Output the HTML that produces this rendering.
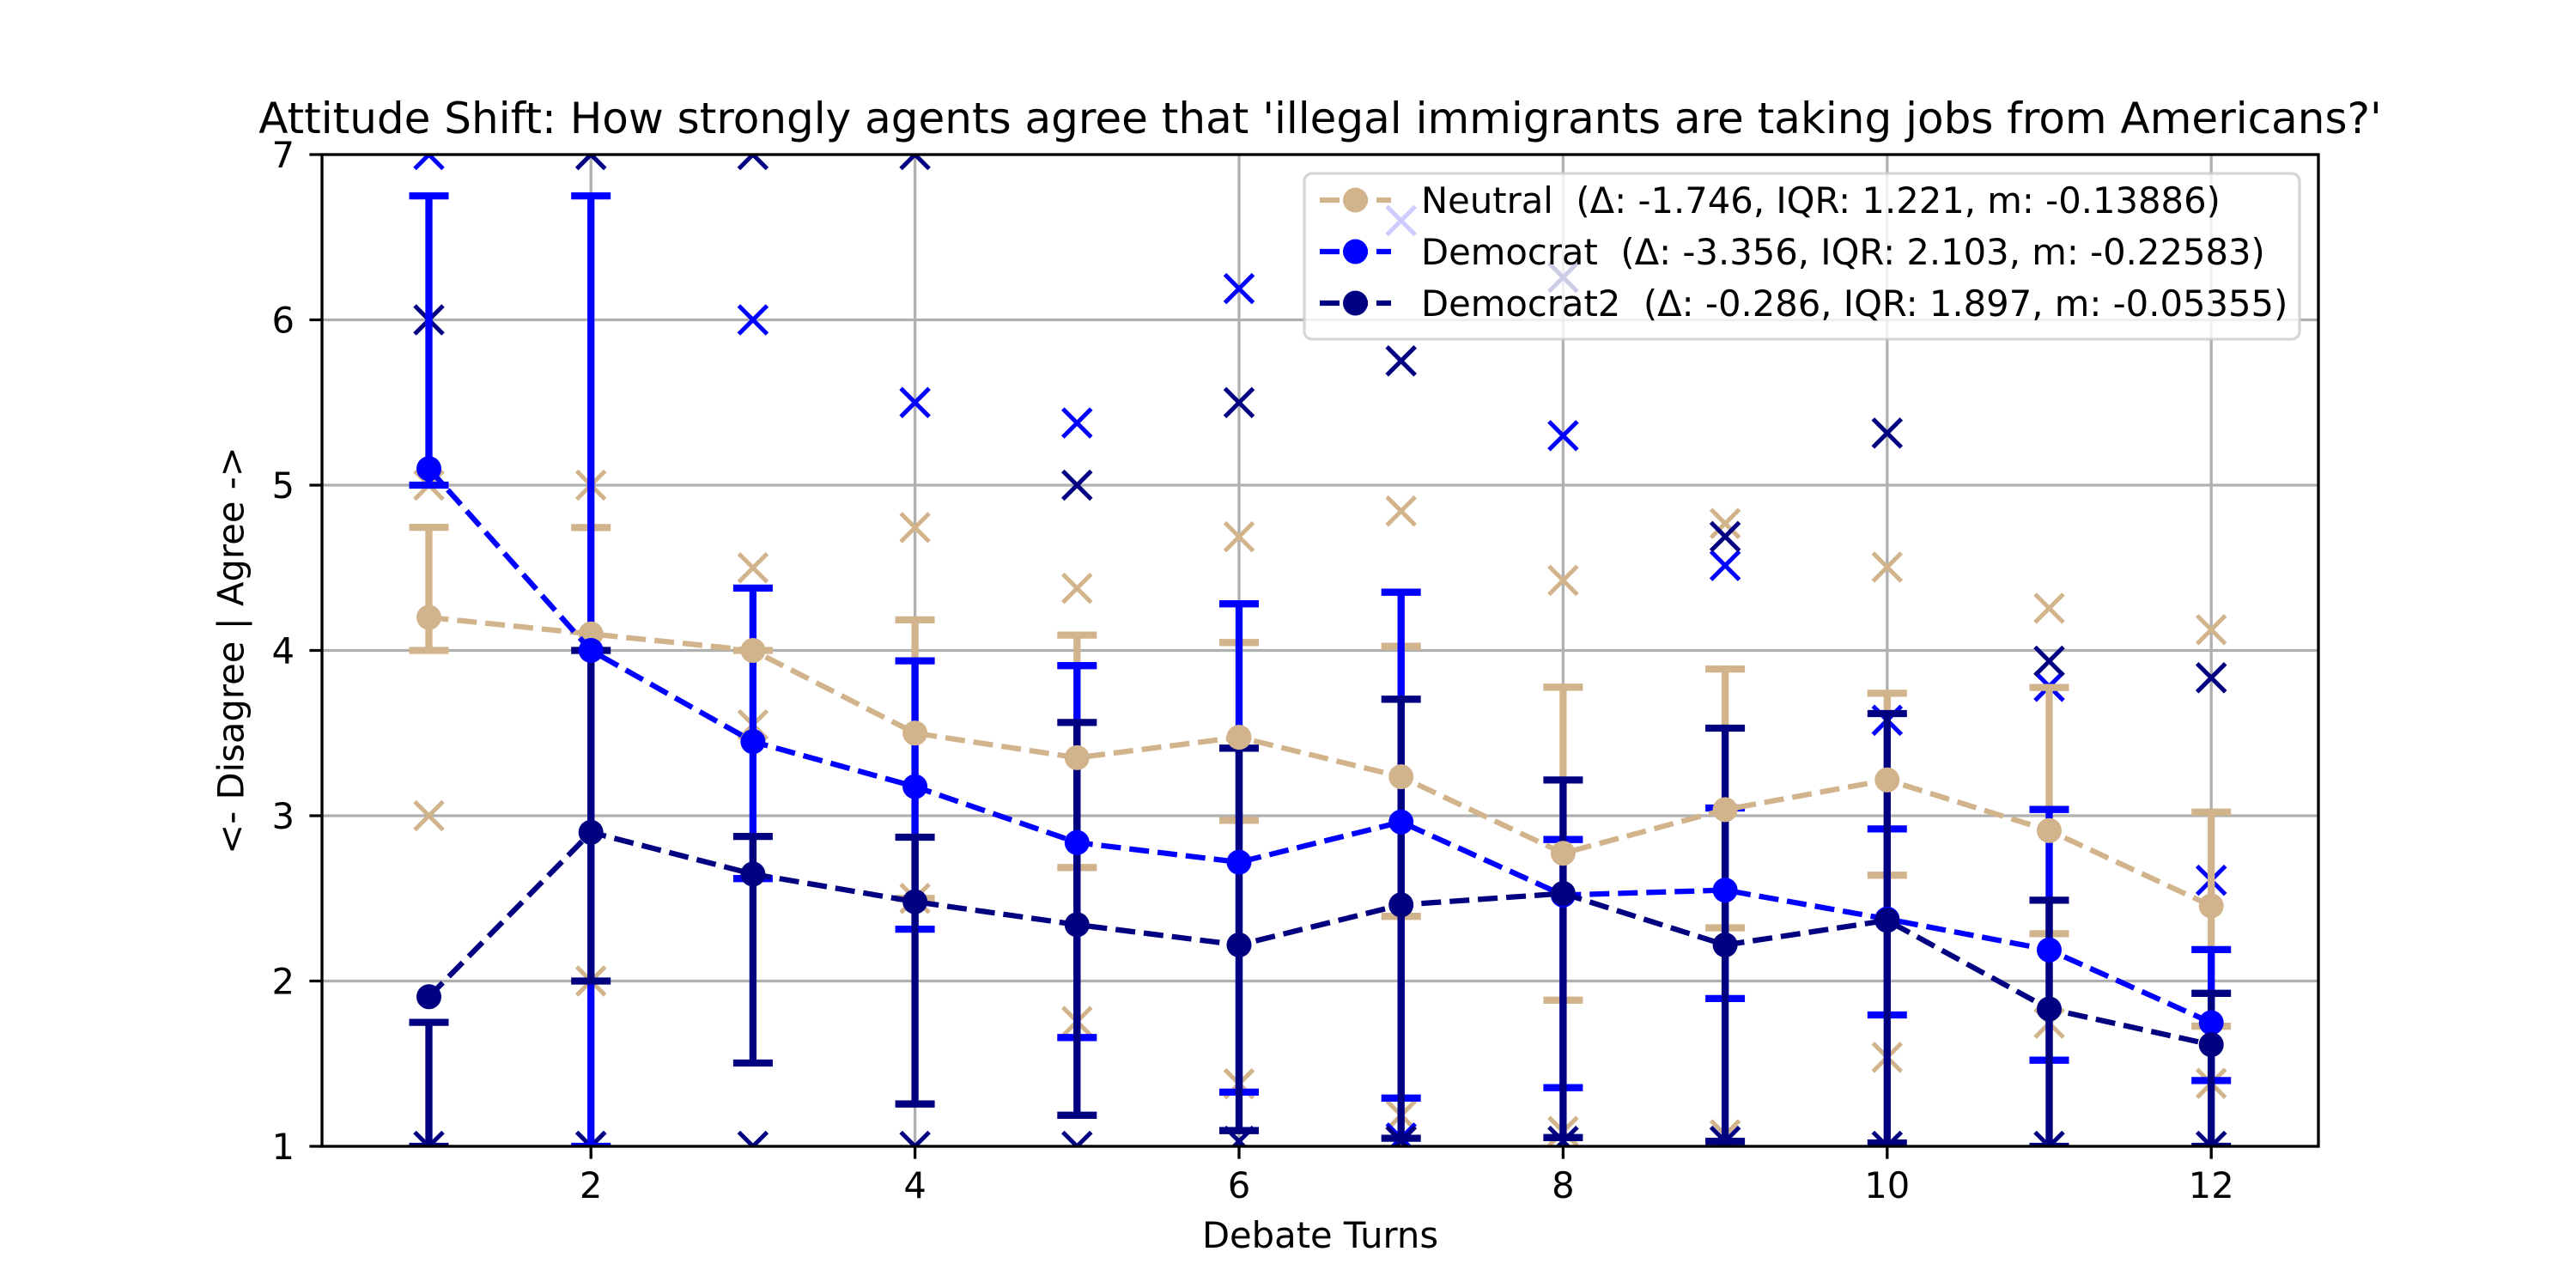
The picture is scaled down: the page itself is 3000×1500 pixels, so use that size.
<!DOCTYPE html>
<html><head><meta charset="utf-8"><style>
html,body{margin:0;padding:0;background:#fff;}
svg{display:block;}
text{font-family:"DejaVu Sans","Liberation Sans",sans-serif;fill:#000;}
</style></head><body>
<svg width="3000" height="1500" viewBox="0 0 3000 1500" xmlns="http://www.w3.org/2000/svg">
<defs>
<clipPath id="ax"><rect x="375" y="180" width="2325" height="1155"/></clipPath>
<path id="xm" d="M-16.5,-16.5L16.5,16.5M-16.5,16.5L16.5,-16.5"/>
</defs>
<rect x="0" y="0" width="3000" height="1500" fill="#fff"/>
<!-- grid -->
<g stroke="#b0b0b0" stroke-width="3.33" fill="none">
<path d="M688.2,180V1335M1065.6,180V1335M1443,180V1335M1820.4,180V1335M2197.8,180V1335M2575.2,180V1335"/>
<path d="M375,1142.5H2700M375,950H2700M375,757.5H2700M375,565H2700M375,372.5H2700"/>
</g>
<g clip-path="url(#ax)">
<!-- x markers -->
<g stroke="#D2B48C" stroke-width="5" fill="none">
<use href="#xm" x="499.5" y="565"/><use href="#xm" x="499.5" y="950"/>
<use href="#xm" x="688.2" y="565"/><use href="#xm" x="688.2" y="1142.5"/>
<use href="#xm" x="876.9" y="661.3"/><use href="#xm" x="876.9" y="844.1"/>
<use href="#xm" x="1065.6" y="614.4"/><use href="#xm" x="1065.6" y="1046.3"/>
<use href="#xm" x="1254.3" y="685.1"/><use href="#xm" x="1254.3" y="1189.7"/>
<use href="#xm" x="1443" y="625.1"/><use href="#xm" x="1443" y="1262.2"/>
<use href="#xm" x="1631.7" y="595.2"/><use href="#xm" x="1631.7" y="1298.8"/>
<use href="#xm" x="1820.4" y="675.9"/><use href="#xm" x="1820.4" y="1317.7"/>
<use href="#xm" x="2009.1" y="609.7"/><use href="#xm" x="2009.1" y="1321.5"/>
<use href="#xm" x="2197.8" y="660.5"/><use href="#xm" x="2197.8" y="1231.4"/>
<use href="#xm" x="2386.5" y="708.4"/><use href="#xm" x="2386.5" y="1191.6"/>
<use href="#xm" x="2575.2" y="733.4"/><use href="#xm" x="2575.2" y="1261.7"/>
</g>
<g stroke="#0000FF" stroke-width="5" fill="none">
<use href="#xm" x="499.5" y="180"/>
<use href="#xm" x="688.2" y="180"/><use href="#xm" x="688.2" y="1335"/>
<use href="#xm" x="876.9" y="372.5"/>
<use href="#xm" x="1065.6" y="468.8"/>
<use href="#xm" x="1254.3" y="492.6"/>
<use href="#xm" x="1443" y="336.1"/>
<use href="#xm" x="1631.7" y="257"/><use href="#xm" x="1631.7" y="1325.4"/>
<use href="#xm" x="1820.4" y="507.4"/>
<use href="#xm" x="2009.1" y="658.6"/>
<use href="#xm" x="2197.8" y="838.8"/>
<use href="#xm" x="2386.5" y="799.3"/>
<use href="#xm" x="2575.2" y="1025.1"/>
</g>
<g stroke="#000080" stroke-width="5" fill="none">
<use href="#xm" x="499.5" y="372.5"/><use href="#xm" x="499.5" y="1335"/>
<use href="#xm" x="688.2" y="180"/><use href="#xm" x="688.2" y="1335"/>
<use href="#xm" x="876.9" y="180"/><use href="#xm" x="876.9" y="1335"/>
<use href="#xm" x="1065.6" y="180"/><use href="#xm" x="1065.6" y="1335"/>
<use href="#xm" x="1254.3" y="565"/><use href="#xm" x="1254.3" y="1335"/>
<use href="#xm" x="1443" y="468.9"/><use href="#xm" x="1443" y="1329.2"/>
<use href="#xm" x="1631.7" y="420.3"/><use href="#xm" x="1631.7" y="1329"/>
<use href="#xm" x="1820.4" y="323"/><use href="#xm" x="1820.4" y="1329.2"/>
<use href="#xm" x="2009.1" y="624.9"/><use href="#xm" x="2009.1" y="1329.2"/>
<use href="#xm" x="2197.8" y="504.4"/><use href="#xm" x="2197.8" y="1335"/>
<use href="#xm" x="2386.5" y="770"/><use href="#xm" x="2386.5" y="1335"/>
<use href="#xm" x="2575.2" y="789.3"/><use href="#xm" x="2575.2" y="1335"/>
</g>
<!-- error bars -->
<path stroke="#D2B48C" stroke-width="8.3" fill="none" d="M499.5,614.1V757.5M476.5,614.1h46M476.5,757.5h46M688.2,614.4V757.5M665.2,614.4h46M665.2,757.5h46M853.9,757.5h46M1065.6,721.9V1046.3M1042.6,721.9h46M1042.6,1046.3h46M1254.3,739.6V1010.3M1231.3,739.6h46M1231.3,1010.3h46M1443,748.3V955.4M1420,748.3h46M1420,955.4h46M1631.7,752.7V1067.2M1608.7,752.7h46M1608.7,1067.2h46M1820.4,800.3V1164.8M1797.4,800.3h46M1797.4,1164.8h46M2009.1,779.1V1080.5M1986.1,779.1h46M1986.1,1080.5h46M2197.8,807.4V1019.3M2174.8,807.4h46M2174.8,1019.3h46M2386.5,800.6V1087.4M2363.5,800.6h46M2363.5,1087.4h46M2575.2,945.8V1195.1M2552.2,945.8h46M2552.2,1195.1h46"/>
<path stroke="#0000FF" stroke-width="8.3" fill="none" d="M499.5,228.1V565M476.5,228.1h46M476.5,565h46M688.2,228.1V1335M665.2,228.1h46M665.2,1335h46M876.9,684.9V1023.2M853.9,684.9h46M853.9,1023.2h46M1065.6,769.6V1082.1M1042.6,769.6h46M1042.6,1082.1h46M1254.3,775.2V1208.3M1231.3,775.2h46M1231.3,1208.3h46M1443,703.2V1271.9M1420,703.2h46M1420,1271.9h46M1631.7,689.7V1278.8M1608.7,689.7h46M1608.7,1278.8h46M1820.4,977.7V1266.7M1797.4,977.7h46M1797.4,1266.7h46M2009.1,941V1162.9M1986.1,941h46M1986.1,1162.9h46M2197.8,965.4V1182M2174.8,965.4h46M2174.8,1182h46M2386.5,942.7V1234.7M2363.5,942.7h46M2363.5,1234.7h46M2575.2,1105.9V1258.4M2552.2,1105.9h46M2552.2,1258.4h46"/>
<path stroke="#000080" stroke-width="8.3" fill="none" d="M499.5,1190.6V1335M476.5,1190.6h46M476.5,1335h46M688.2,757.5V1142.5M665.2,757.5h46M665.2,1142.5h46M876.9,974.1V1238M853.9,974.1h46M853.9,1238h46M1065.6,975V1285.7M1042.6,975h46M1042.6,1285.7h46M1254.3,841.4V1298.8M1231.3,841.4h46M1231.3,1298.8h46M1443,871.3V1316.7M1420,871.3h46M1420,1316.7h46M1631.7,814.3V1325.6M1608.7,814.3h46M1608.7,1325.6h46M1820.4,908.4V1324.8M1797.4,908.4h46M1797.4,1324.8h46M2009.1,848V1329.2M1986.1,848h46M1986.1,1329.2h46M2197.8,831V1331.2M2174.8,831h46M2174.8,1331.2h46M2386.5,1048.4V1335M2363.5,1048.4h46M2363.5,1335h46M2575.2,1156.8V1335M2552.2,1156.8h46M2552.2,1335h46"/>
<!-- mean lines -->
<polyline fill="none" stroke="#D2B48C" stroke-width="6.25" stroke-dasharray="23 10" points="499.5,719 688.2,738.3 876.9,757.5 1065.6,853.8 1254.3,882.4 1443,858.6 1631.7,904.6 1820.4,993.7 2009.1,942.9 2197.8,908.3 2386.5,967.3 2575.2,1055"/>
<g fill="#D2B48C">
<circle cx="499.5" cy="719" r="14.5"/><circle cx="688.2" cy="738.3" r="14.5"/><circle cx="876.9" cy="757.5" r="14.5"/><circle cx="1065.6" cy="853.8" r="14.5"/><circle cx="1254.3" cy="882.4" r="14.5"/><circle cx="1443" cy="858.6" r="14.5"/><circle cx="1631.7" cy="904.6" r="14.5"/><circle cx="1820.4" cy="993.7" r="14.5"/><circle cx="2009.1" cy="942.9" r="14.5"/><circle cx="2197.8" cy="908.3" r="14.5"/><circle cx="2386.5" cy="967.3" r="14.5"/><circle cx="2575.2" cy="1055" r="14.5"/>
</g>
<polyline fill="none" stroke="#0000FF" stroke-width="6.25" stroke-dasharray="23 10" points="499.5,545.8 688.2,757.5 876.9,863.7 1065.6,916.1 1254.3,981.2 1443,1004.1 1631.7,957.3 1820.4,1042.4 2009.1,1036.6 2197.8,1070.3 2386.5,1106.3 2575.2,1191"/>
<g fill="#0000FF">
<circle cx="499.5" cy="545.8" r="14.5"/><circle cx="688.2" cy="757.5" r="14.5"/><circle cx="876.9" cy="863.7" r="14.5"/><circle cx="1065.6" cy="916.1" r="14.5"/><circle cx="1254.3" cy="981.2" r="14.5"/><circle cx="1443" cy="1004.1" r="14.5"/><circle cx="1631.7" cy="957.3" r="14.5"/><circle cx="1820.4" cy="1042.4" r="14.5"/><circle cx="2009.1" cy="1036.6" r="14.5"/><circle cx="2197.8" cy="1070.3" r="14.5"/><circle cx="2386.5" cy="1106.3" r="14.5"/><circle cx="2575.2" cy="1191" r="14.5"/>
</g>
<polyline fill="none" stroke="#000080" stroke-width="6.25" stroke-dasharray="23 10" points="499.5,1160.8 688.2,969.3 876.9,1017.95 1065.6,1050.1 1254.3,1076.9 1443,1100.5 1631.7,1053.8 1820.4,1040.5 2009.1,1100.5 2197.8,1071.9 2386.5,1175 2575.2,1216.6"/>
<g fill="#000080">
<circle cx="499.5" cy="1160.8" r="14.5"/><circle cx="688.2" cy="969.3" r="14.5"/><circle cx="876.9" cy="1017.95" r="14.5"/><circle cx="1065.6" cy="1050.1" r="14.5"/><circle cx="1254.3" cy="1076.9" r="14.5"/><circle cx="1443" cy="1100.5" r="14.5"/><circle cx="1631.7" cy="1053.8" r="14.5"/><circle cx="1820.4" cy="1040.5" r="14.5"/><circle cx="2009.1" cy="1100.5" r="14.5"/><circle cx="2197.8" cy="1071.9" r="14.5"/><circle cx="2386.5" cy="1175" r="14.5"/><circle cx="2575.2" cy="1216.6" r="14.5"/>
</g>
</g>
<!-- spines -->
<rect x="375" y="180" width="2325" height="1155" fill="none" stroke="#000" stroke-width="3.33"/>
<!-- ticks -->
<g stroke="#000" stroke-width="3.33">
<path d="M360.4,1335H375M360.4,1142.5H375M360.4,950H375M360.4,757.5H375M360.4,565H375M360.4,372.5H375M360.4,180H375"/>
<path d="M688.2,1335V1349.6M1065.6,1335V1349.6M1443,1335V1349.6M1820.4,1335V1349.6M2197.8,1335V1349.6M2575.2,1335V1349.6"/>
</g>
<g font-size="41.7" text-anchor="end">
<text x="343" y="1350">1</text><text x="343" y="1157.5">2</text><text x="343" y="965">3</text><text x="343" y="772.5">4</text><text x="343" y="580">5</text><text x="343" y="387.5">6</text><text x="343" y="195">7</text>
</g>
<g font-size="41.7" text-anchor="middle">
<text x="688.2" y="1395">2</text><text x="1065.6" y="1395">4</text><text x="1443" y="1395">6</text><text x="1820.4" y="1395">8</text><text x="2197.8" y="1395">10</text><text x="2575.2" y="1395">12</text>
</g>
<text x="1537.5" y="1453" font-size="41.7" text-anchor="middle">Debate Turns</text>
<text transform="translate(283.3,757.5) rotate(-90)" x="0" y="0" font-size="41.7" text-anchor="middle">&lt;- Disagree | Agree -&gt;</text>
<text x="1537.5" y="155" font-size="50" text-anchor="middle">Attitude Shift: How strongly agents agree that 'illegal immigrants are taking jobs from Americans?'</text>
<!-- legend -->
<rect x="1519" y="202" width="1159" height="193" rx="9" ry="9" fill="#fff" fill-opacity="0.8" stroke="#cccccc" stroke-opacity="0.8" stroke-width="3.33"/>
<g stroke-width="6.25" stroke-dasharray="23 10" fill="none">
<path d="M1537,233H1620" stroke="#D2B48C"/>
<path d="M1537,293H1620" stroke="#0000FF"/>
<path d="M1537,353H1620" stroke="#000080"/>
</g>
<circle cx="1578.5" cy="233" r="14.5" fill="#D2B48C"/>
<circle cx="1578.5" cy="293" r="14.5" fill="#0000FF"/>
<circle cx="1578.5" cy="353" r="14.5" fill="#000080"/>
<g font-size="41.7" style="white-space:pre">
<text x="1655" y="248" xml:space="preserve">Neutral  (Δ: -1.746, IQR: 1.221, m: -0.13886)</text>
<text x="1655" y="308" xml:space="preserve">Democrat  (Δ: -3.356, IQR: 2.103, m: -0.22583)</text>
<text x="1655" y="368" xml:space="preserve">Democrat2  (Δ: -0.286, IQR: 1.897, m: -0.05355)</text>
</g>
</svg>
</body></html>
